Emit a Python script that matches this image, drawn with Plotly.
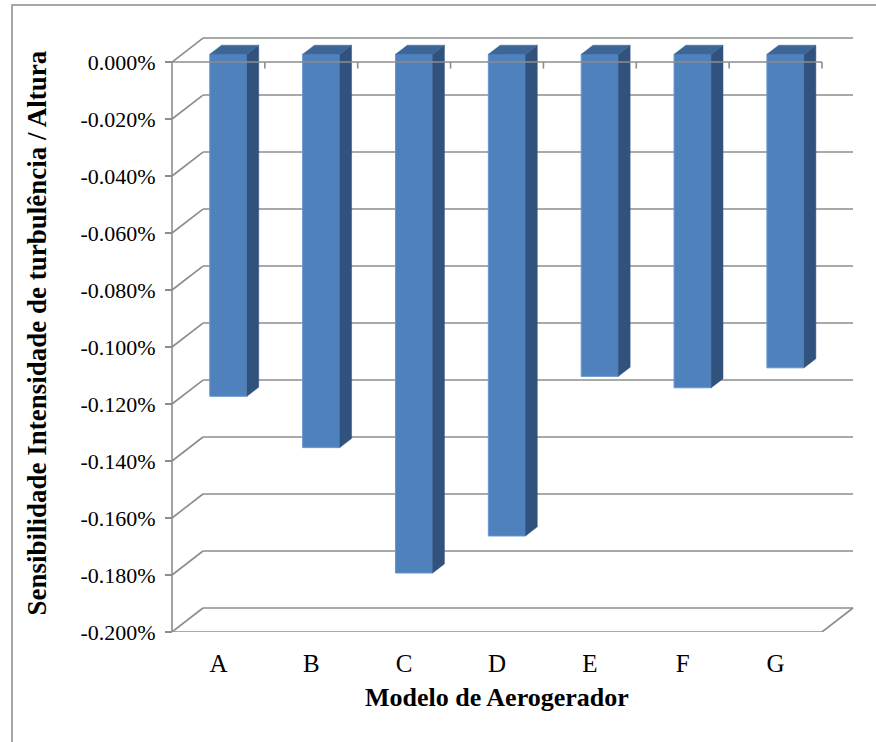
import plotly.graph_objects as go

# Sensitivity of turbulence intensity to height, per wind-turbine model
models = ["A", "B", "C", "D", "E", "F", "G"]
sensitivity = [-0.00120, -0.00138, -0.00182, -0.00169, -0.00113, -0.00117, -0.00110]

tick_values = [0.0, -0.0002, -0.0004, -0.0006, -0.0008, -0.0010,
               -0.0012, -0.0014, -0.0016, -0.0018, -0.0020]
tick_labels = ["0.000%", "-0.020%", "-0.040%", "-0.060%", "-0.080%", "-0.100%",
               "-0.120%", "-0.140%", "-0.160%", "-0.180%", "-0.200%"]

# Oblique projection used for the pseudo-3D look
DX = 0.334        # depth shift along the category axis
DY = 8.42e-5      # depth shift along the value axis
T0, T1 = 0.32, 0.70   # front and back depth of each column
BAR_W = 0.4

FRONT = "#4F81BD"
SIDE = "#30527D"
TOP = "#3D6698"
EDGE = "#6496D2"
GRID = "#8C8C8C"
FONT = "Liberation Serif"

XMIN, XMAX = -0.6292, 6.92
YMIN, YMAX = -0.0020, 0.0001123

n = len(models)
xs = list(range(n))
front_x = [i + T0 * DX for i in xs]
base = T0 * DY
ddx = (T1 - T0) * DX
ddy = (T1 - T0) * DY

fig = go.Figure()

# Front faces of the columns
fig.add_trace(go.Bar(
    x=front_x, y=sensitivity, base=[base] * n, width=BAR_W,
    marker=dict(color=FRONT, line=dict(color=EDGE, width=1)),
    hoverinfo="skip",
))

# Right-hand side faces and top faces
side_x, side_y, top_x, top_y = [], [], [], []
for fx, v in zip(front_x, sensitivity):
    xl, xr = fx - BAR_W / 2, fx + BAR_W / 2
    y0, y1 = base, base + v
    side_x += [xr, xr, xr + ddx, xr + ddx, xr, None]
    side_y += [y0, y1, y1 + ddy, y0 + ddy, y0, None]
    top_x += [xl, xr, xr + ddx, xl + ddx, xl, None]
    top_y += [y0, y0, y0 + ddy, y0 + ddy, y0, None]

fig.add_trace(go.Scatter(x=side_x, y=side_y, mode="lines", fill="toself",
                         fillcolor=SIDE, line=dict(color=SIDE, width=0.5),
                         hoverinfo="skip"))
fig.add_trace(go.Scatter(x=top_x, y=top_y, mode="lines", fill="toself",
                         fillcolor=TOP, line=dict(color=TOP, width=0.5),
                         hoverinfo="skip"))

shapes = []
x_left, x_right = -0.5, n - 0.5

def seg(x0, y0, x1, y1, layer="below", width=1.6):
    shapes.append(dict(type="line", xref="x", yref="y", x0=x0, y0=y0, x1=x1, y1=y1,
                       line=dict(color=GRID, width=width), layer=layer))

# Side wall diagonals and back wall gridlines
for v in tick_values:
    seg(x_left, v, x_left + DX, v + DY)
    seg(x_left + DX, v + DY, x_right + DX, v + DY)

# Floor front edge and right edge
seg(x_left, YMIN, x_right, YMIN)
seg(x_right, YMIN, x_right + DX, YMIN + DY)

# Front value axis line
seg(x_left, 0.0, x_left, YMIN)

# Category axis at zero, drawn over the columns, with tick marks
seg(x_left, 0.0, x_right, 0.0, layer="above")
tick_len = 2.3e-5
for k in range(1, n + 1):
    seg(x_left + k, 0.0, x_left + k, -tick_len, layer="above")

# Outer chart frame
shapes.append(dict(type="rect", xref="paper", yref="paper",
                   x0=-0.2111, y0=-0.2, x1=1.03, y1=1.0415,
                   line=dict(color="#A6A6A6", width=2), fillcolor="rgba(0,0,0,0)",
                   layer="below"))

fig.update_layout(
    width=876, height=742,
    margin=dict(l=160, r=15, t=30, b=110),
    paper_bgcolor="white", plot_bgcolor="white",
    showlegend=False,
    shapes=shapes,
    xaxis=dict(range=[XMIN, XMAX], tickmode="array", tickvals=xs, ticktext=models,
               ticks="outside", ticklen=9, tickcolor="rgba(0,0,0,0)",
               showgrid=False, zeroline=False, showline=False,
               tickfont=dict(family=FONT, size=25, color="black")),
    yaxis=dict(range=[YMIN, YMAX], anchor="free", position=0.01712,
               tickmode="array", tickvals=tick_values, ticktext=tick_labels,
               ticks="outside", ticklen=7, tickwidth=1.5, tickcolor=GRID,
               ticklabelstandoff=5,
               showgrid=False, zeroline=False, showline=False,
               tickfont=dict(family=FONT, size=22, color="black")),
    annotations=[
        dict(text="<b>Modelo de Aerogerador</b>", xref="x", yref="paper",
             x=3, y=-0.1096, showarrow=False, xanchor="center", yanchor="middle",
             font=dict(family=FONT, size=26, color="black")),
        dict(text="<b>Sensibilidade Intensidade de turbulência / Altura</b>",
             xref="paper", yref="paper", x=-0.176, y=0.4967, textangle=-90,
             showarrow=False, xanchor="center", yanchor="middle",
             font=dict(family=FONT, size=27, color="black")),
    ],
)

fig.write_html("out.html")
